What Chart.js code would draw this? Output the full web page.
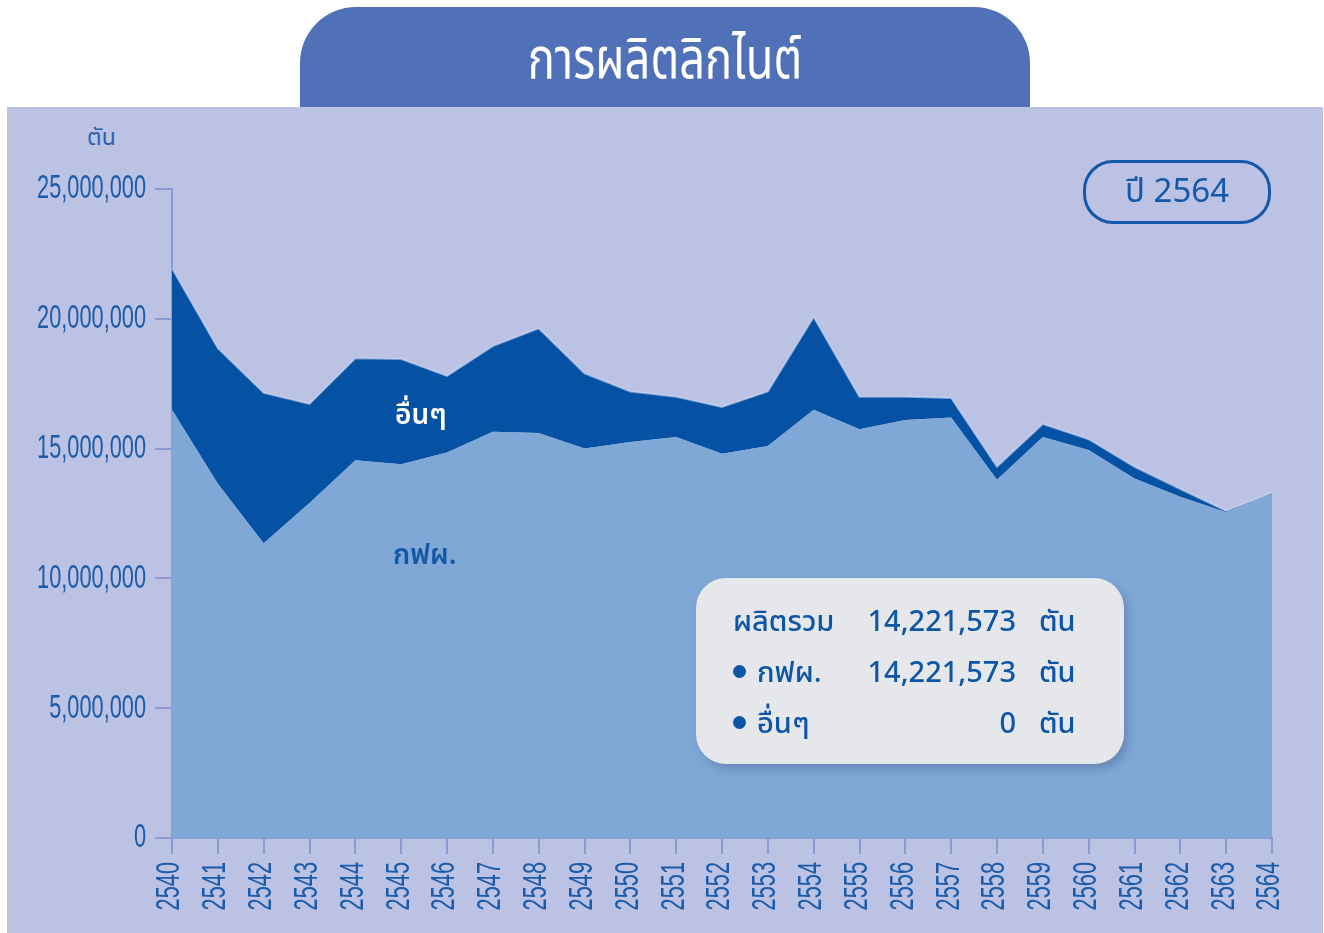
<!DOCTYPE html>
<html lang="th">
<head>
<meta charset="utf-8">
<script src="https://cdn.jsdelivr.net/npm/chart.js@4.4.1/dist/chart.umd.min.js"></script>
<style>
  html, body { margin: 0; padding: 0; background: #ffffff; }
  body { width: 1324px; height: 933px; position: relative; overflow: hidden;
         font-family: "Noto Sans Thai", "Noto Sans", "DejaVu Sans", sans-serif; }
  #panel { position: absolute; left: 7px; top: 107px; width: 1316px; height: 826px; background: #BCC2E3; }
  #tab { position: absolute; left: 300px; top: 7px; width: 730px; height: 100px;
         background: #5070B8; border-radius: 56px 56px 0 0; }
  #title { position: absolute; left: 300px; top: 25px; width: 730px; text-align: center;
           color: #ffffff; font-size: 58px; line-height: 70px; }
  #title span { display: inline-block; transform: scaleX(0.78); }
  #unit { position: absolute; left: 87px; top: 121px; color: #2A62AE; font-size: 23px; }
  #cv { position: absolute; left: 0; top: 0; }
  .lbl { position: absolute; font-weight: 600; font-size: 28px; }
  #lblOther { left: 395px; top: 394px; color: #ffffff; }
  #lblEgat { left: 393px; top: 534px; color: #1558A8; }
  #badge { position: absolute; left: 1083px; top: 160px; width: 182px; height: 58px;
           border: 3px solid #1558A8; border-radius: 30px; color: #1558A8;
           font-size: 33px; text-align: center; line-height: 58px; }
  #box { position: absolute; left: 696px; top: 578px; width: 428px; height: 186px;
         background: #E6E7EA; border-radius: 30px; box-shadow: 4px 5px 8px rgba(60,80,130,0.35);
         color: #0D55A5; font-size: 29px; font-weight: 500; }
  .row { position: absolute; left: 0; width: 428px; height: 40px; line-height: 40px; }
  .c1 { position: absolute; left: 37px; }
  .c2 { position: absolute; right: 108px; text-align: right; }
  .c3 { position: absolute; left: 343px; }
  .dot { display: inline-block; width: 13px; height: 13px; border-radius: 50%; background: #0D55A5;
         margin-right: 11px; vertical-align: middle; position: relative; top: -2px; }
</style>
</head>
<body>
<div id="panel"></div>
<div id="tab"></div>
<div id="title"><span>การผลิตลิกไนต์</span></div>
<div id="unit">ตัน</div>
<canvas id="cv" width="1324" height="933"></canvas>
<div class="lbl" id="lblOther">อื่นๆ</div>
<div class="lbl" id="lblEgat">กฟผ.</div>
<div id="badge">ปี 2564</div>
<div id="box">
  <div class="row" style="top:24px"><span class="c1">ผลิตรวม</span><span class="c2">14,221,573</span><span class="c3">ตัน</span></div>
  <div class="row" style="top:75px"><span class="c1"><span class="dot"></span>กฟผ.</span><span class="c2">14,221,573</span><span class="c3">ตัน</span></div>
  <div class="row" style="top:126px"><span class="c1"><span class="dot"></span>อื่นๆ</span><span class="c2">0</span><span class="c3">ตัน</span></div>
</div>
<script>
const years = ['2540','2541','2542','2543','2544','2545','2546','2547','2548','2549','2550','2551','2552',
               '2553','2554','2555','2556','2557','2558','2559','2560','2561','2562','2563','2564'];
// กฟผ. (EGAT) production, tons
const egat = [16500000,13650000,11350000,12900000,14550000,14400000,14850000,15650000,15600000,15000000,
              15250000,15450000,14800000,15100000,16500000,15750000,16100000,16200000,13800000,15450000,
              14950000,13850000,13150000,12550000,13300000];
// อื่นๆ (others) production, tons
const others = [5450000,5220000,5800000,3820000,3930000,4050000,2950000,3300000,4030000,2900000,
                1950000,1550000,1800000,2100000,3570000,1250000,900000,750000,500000,500000,
                410000,450000,290000,50000,0];
const yMin = 0, yMax = 25000000, yStep = 5000000;

const tickColor = '#1A5BAA';
const axisColor = '#8B9BD1';
const labelFont = '34px "Liberation Sans", Arial, sans-serif';
const squeeze = 0.64;

// draws the scales' own tick labels in a condensed style
const condensedLabels = {
  id: 'condensedLabels',
  afterDraw(chart) {
    const ctx = chart.ctx;
    const xs = chart.scales.x, ys = chart.scales.y;
    ctx.save();
    ctx.fillStyle = tickColor;
    ctx.font = labelFont;
    ys.ticks.forEach((t, i) => {
      const py = ys.getPixelForTick(i);
      ctx.save();
      ctx.translate(ys.right - 26, py);
      ctx.scale(squeeze, 1);
      ctx.textAlign = 'right';
      ctx.textBaseline = 'middle';
      ctx.fillText(t.label, 0, 0);
      ctx.restore();
    });
    xs.ticks.forEach((t, i) => {
      const px = xs.getPixelForTick(i);
      ctx.save();
      ctx.translate(px - 2, xs.top + 24);
      ctx.rotate(-Math.PI / 2);
      ctx.scale(squeeze, 1);
      ctx.textAlign = 'right';
      ctx.textBaseline = 'middle';
      ctx.fillText(t.label, 0, 0);
      ctx.restore();
    });
    ctx.restore();
  }
};

new Chart(document.getElementById('cv'), {
  type: 'line',
  data: {
    labels: years,
    datasets: [
      { label: 'กฟผ.', data: egat, fill: 'origin', backgroundColor: '#7FA8D6',
        borderColor: 'rgba(0,0,0,0)', borderWidth: 0, pointRadius: 0, tension: 0 },
      { label: 'อื่นๆ', data: others, fill: '-1', backgroundColor: '#0552A4',
        borderColor: 'rgba(215,224,248,0.55)', borderWidth: 2, pointRadius: 0, tension: 0 }
    ]
  },
  options: {
    responsive: false,
    animation: false,
    layout: { padding: { top: 189, right: 52, left: 0, bottom: 0 } },
    plugins: { legend: { display: false }, tooltip: { enabled: false } },
    scales: {
      x: {
        afterFit: s => { s.height = 95; },
        grid: { drawOnChartArea: false, tickLength: 16, color: axisColor, lineWidth: 2 },
        border: { color: axisColor, width: 2 },
        ticks: { display: false, autoSkip: false, maxRotation: 0 }
      },
      y: {
        stacked: true,
        min: yMin, max: yMax,
        afterFit: s => { s.width = 172; },
        grid: { drawOnChartArea: false, tickLength: 17, color: axisColor, lineWidth: 2 },
        border: { color: axisColor, width: 2 },
        ticks: { display: false, stepSize: yStep,
                 callback: v => v.toLocaleString('en-US') }
      }
    }
  },
  plugins: [condensedLabels]
});
</script>
</body>
</html>
